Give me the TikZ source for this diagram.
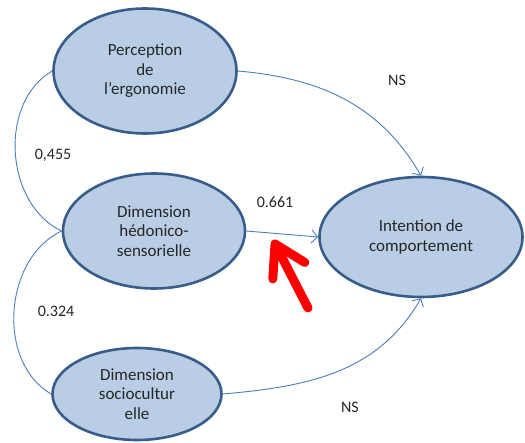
\documentclass[tikz,border=0pt]{standalone}
\usepackage{fontspec}
\setmainfont{Carlito}
\usepackage{tikz}
\usetikzlibrary{arrows.meta,shapes.geometric}
\definecolor{latfill}{HTML}{B9CDE5}
\definecolor{latedge}{HTML}{385D8A}
\definecolor{linkblue}{HTML}{4A7EBB}
\tikzset{
  latent/.style = {ellipse, draw=latedge, line width=2.6pt, fill=latfill,
                   align=center, inner sep=0pt, text=black!85,
                   font=\fontsize{17}{19.5}\selectfont},
  link/.style   = {linkblue, line width=0.9pt,
                   -{Straight Barb[length=6pt,width=13pt,line width=0.9pt]}},
  cov/.style    = {linkblue, line width=0.9pt},
  lbl/.style    = {text=black!85, font=\fontsize{16}{18}\selectfont, inner sep=0pt},
  pointer/.style = {red, line width=9pt, line cap=round,
                   -{Straight Barb[round,length=30pt,width=36pt]}},
}

\begin{document}
\begin{tikzpicture}[x=1pt,y=1pt]
  \useasboundingbox (0,0) rectangle (525,442);
  \node[latent, minimum width=183pt, minimum height=125pt] (ergo)   at (145,371) {Perception\\de\\l’ergonomie};
  \node[latent, minimum width=182pt, minimum height=115pt] (hedo)   at (154,211) {Dimension\\hédonico-\\sensorielle};
  \node[latent, minimum width=169pt, minimum height=92pt]  (socio)  at (137,48)  {Dimension\\sociocultur\\elle};
  \node[latent, minimum width=203pt, minimum height=120pt] (intent) at (421,205) {Intention de\\comportement};
  % paths to the dependent variable
  \draw[link] (ergo.east)  to[out=-5,in=120]  (intent.north);
  \draw[link] (hedo.east)  -- (intent.west);
  \draw[link] (socio.east) to[out=5,in=-120]  (intent.south);
  % correlations
  \draw[cov] (ergo.west) to[out=210,in=155] (hedo.west);
  \draw[cov] (hedo.west) to[out=205,in=150] (socio.west);
  \node[lbl] (ns1)  at (397,362) {NS};
  \node[lbl] (c455) at (53,287)  {0,455};
  \node[lbl] (c661) at (275,240) {0.661};
  \node[lbl] (c324) at (56,131)  {0.324};
  \node[lbl] (ns2)  at (350,35)  {NS};
  \coordinate (tail) at (308,134);
  \coordinate (tip)  at (273,202);
  \draw[pointer] (tail) -- (tip);
\end{tikzpicture}
\end{document}
